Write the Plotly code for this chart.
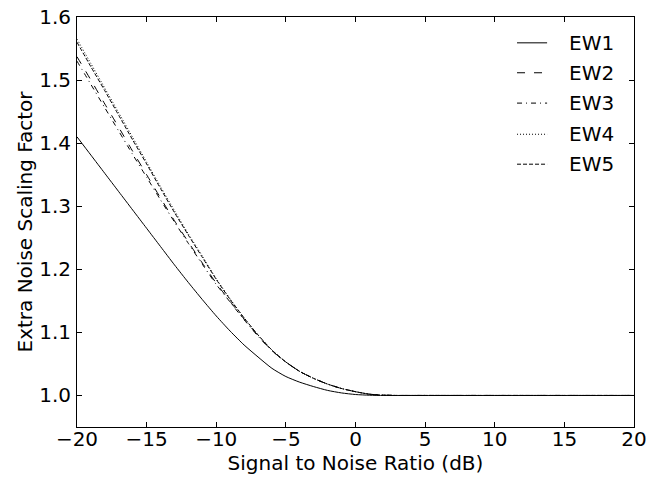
import plotly.graph_objects as go

snr_db = list(range(-20, 21))

ew1 = [1.410, 1.381, 1.352, 1.323, 1.294, 1.265, 1.236, 1.207, 1.179, 1.152,
       1.126, 1.102, 1.080, 1.061, 1.043, 1.030, 1.021, 1.014, 1.008, 1.004,
       1.0015, 1.0004] + [1.0] * 19
ew2 = [1.537, 1.500, 1.462, 1.425, 1.387, 1.350, 1.313, 1.277, 1.243, 1.210,
       1.178, 1.149, 1.121, 1.095, 1.071, 1.053, 1.038, 1.027, 1.018, 1.011,
       1.006, 1.002, 1.0005] + [1.0] * 18
ew3 = [1.530, 1.493, 1.456, 1.419, 1.382, 1.346, 1.310, 1.275, 1.241, 1.208,
       1.176, 1.148, 1.120, 1.094, 1.071, 1.053, 1.038, 1.027, 1.018, 1.011,
       1.006, 1.002, 1.0005] + [1.0] * 18
ew4 = [1.565, 1.526, 1.487, 1.448, 1.409, 1.370, 1.331, 1.293, 1.256, 1.221,
       1.185, 1.153, 1.123, 1.096, 1.072, 1.053, 1.038, 1.027, 1.018, 1.011,
       1.006, 1.002, 1.0005] + [1.0] * 18
ew5 = [1.560, 1.521, 1.483, 1.444, 1.405, 1.367, 1.328, 1.290, 1.254, 1.219,
       1.184, 1.152, 1.123, 1.096, 1.072, 1.053, 1.038, 1.027, 1.018, 1.011,
       1.006, 1.002, 1.0005] + [1.0] * 18

names = ["EW1", "EW2", "EW3", "EW4", "EW5"]
series = [ew1, ew2, ew3, ew4, ew5]
dashes = ["solid", "8px,9px", "5px,4px,1px,4px", "1px,2px", "4px,2px"]

x_ticks = [-20, -15, -10, -5, 0, 5, 10, 15, 20]
y_ticks = [1.0, 1.1, 1.2, 1.3, 1.4, 1.5, 1.6]

FS = 20

fig = go.Figure()
for name, ys, d in zip(names, series, dashes):
    fig.add_trace(go.Scatter(x=snr_db, y=ys, mode="lines", name=name,
                             line=dict(color="black", width=1, dash=d, shape="spline", smoothing=0.6),
                             showlegend=False))

# manual legend (matplotlib-like, no frame)
leg_y = [0.937, 0.864, 0.790, 0.714, 0.641]
for name, d, yy in zip(names, dashes, leg_y):
    fig.add_shape(type="line", xref="paper", yref="paper", x0=0.790, x1=0.844, y0=yy, y1=yy,
                  line=dict(color="black", width=1, dash=d))
    fig.add_annotation(xref="paper", yref="paper", x=0.880, y=yy, text=name, showarrow=False,
                       xanchor="left", yanchor="middle", font=dict(size=FS, color="black"))

axis_common = dict(showline=True, linecolor="black", linewidth=1, mirror="ticks",
                   ticks="inside", ticklen=5, tickwidth=1, tickcolor="black",
                   showgrid=False, zeroline=False, tickfont=dict(size=FS, color="black"),
                   automargin=False, ticklabeloverflow="allow")

fig.update_layout(
    width=660, height=478,
    margin=dict(l=77, r=26, t=17, b=51),
    paper_bgcolor="white", plot_bgcolor="white",
    font=dict(family="DejaVu Sans", color="black", size=FS),
    xaxis=dict(range=[-20, 20], tickvals=x_ticks, ticktext=[f"{v}".replace("-", "\u2212") for v in x_ticks],
               title=dict(text="Signal to Noise Ratio (dB)", font=dict(size=FS), standoff=2),
               ticklabelstandoff=-6, **axis_common),
    yaxis=dict(range=[0.95, 1.6], tickvals=y_ticks, ticktext=[f"{v:.1f}" for v in y_ticks],
               title=dict(text="Extra Noise Scaling Factor", font=dict(size=FS), standoff=1),
               ticklabelstandoff=1, **axis_common),
)

fig.write_html("out.html", config={"displayModeBar": False},
               post_script="document.body.style.margin='0';")
